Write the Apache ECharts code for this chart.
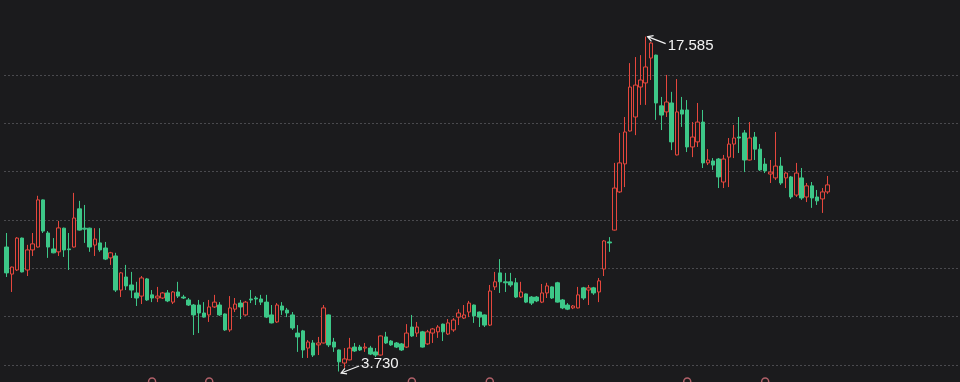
<!DOCTYPE html>
<html>
<head>
<meta charset="utf-8">
<script src="https://cdn.jsdelivr.net/npm/echarts@6/dist/echarts.min.js"></script>
<style>
html,body{margin:0;padding:0;background:#1b1b1d;}
#c{width:960px;height:382px;}
</style>
</head>
<body>
<div id="c"></div>
<script>
// total category slots on the x axis (candles fill the first ones, the rest is empty space)
const slotCount = 184;

// candles: [open, close, lowest, highest]
const ohlc = [
[8.88,7.81,7.64,9.46],[7.76,8.05,7.02,8.07],[7.93,9.25,7.89,9.29],[9.25,7.85,7.83,9.27],
[7.93,8.76,7.68,8.97],[8.76,9.01,8.51,9.46],[8.88,10.83,8.86,11.00],[10.83,9.54,9.46,10.85],
[9.46,8.88,8.43,9.54],[8.80,8.64,8.62,9.25],[8.68,9.67,8.51,9.96],[9.66,8.76,8.47,9.68],
[8.80,8.77,7.93,9.46],[8.88,10.08,8.86,11.12],[10.46,9.58,9.56,10.79],[9.66,9.62,9.05,10.62],
[9.66,8.88,8.68,9.68],[8.96,9.21,8.51,9.66],[9.05,8.76,8.68,9.66],[8.84,8.38,8.34,9.09],
[8.43,8.64,8.14,8.68],[8.51,7.10,7.02,8.64],[7.10,7.81,6.81,7.85],[7.64,7.27,7.10,8.14],
[7.31,7.10,6.77,7.85],[6.98,6.77,6.44,7.44],[6.85,7.60,6.52,7.68],[7.56,6.69,6.65,7.60],
[6.90,6.77,6.60,7.10],[6.77,6.85,6.60,7.23],[6.77,6.98,6.73,7.02],[6.98,6.65,6.60,7.10],
[6.60,7.02,6.52,7.06],[7.02,6.85,6.77,7.44],[6.81,6.77,6.73,6.90],[6.69,6.48,6.44,6.77],
[6.48,6.07,5.24,6.52],[6.48,6.15,5.32,6.69],[6.15,5.98,5.96,6.60],[6.07,6.40,5.78,6.69],
[6.40,6.60,6.36,6.90],[6.48,6.07,6.03,6.60],[6.11,5.45,5.41,6.13],[5.45,6.36,5.37,6.85],
[6.31,6.52,6.19,6.77],[6.56,6.40,5.90,6.69],[6.07,6.60,6.03,6.65],[6.73,6.69,6.56,7.10],
[6.77,6.73,6.48,6.85],[6.73,6.60,6.48,6.90],[6.60,5.98,5.94,6.90],[6.07,5.74,5.72,6.48],
[5.78,6.48,5.74,6.56],[6.44,6.27,6.07,6.60],[6.27,6.15,5.98,6.36],[6.07,5.53,5.45,6.19],
[5.32,5.16,4.54,5.65],[5.41,4.62,4.29,5.45],[4.70,4.95,4.29,5.03],[4.91,4.41,4.33,5.03],
[4.83,4.91,4.41,5.16],[4.91,6.36,4.89,6.48],[6.07,4.83,4.74,6.09],[4.95,4.74,4.54,5.12],
[4.62,4.13,3.73,4.64],[4.08,4.25,3.88,4.70],[4.21,4.70,4.19,5.12],[4.74,4.58,4.54,4.91],
[4.74,4.62,4.58,4.83],[4.70,4.74,4.54,4.91],[4.70,4.45,4.41,4.79],[4.54,4.41,4.33,4.70],
[4.41,5.20,4.39,5.22],[5.16,4.91,4.87,5.37],[4.99,4.83,4.79,5.03],[4.91,4.74,4.70,4.95],
[4.87,4.62,4.58,4.91],[4.74,5.32,4.70,5.69],[5.57,5.20,5.16,6.07],[5.32,5.57,5.16,5.78],
[5.37,4.74,4.72,5.41],[4.87,5.37,4.83,5.45],[5.32,5.49,4.91,5.53],[5.37,5.57,5.12,5.65],
[5.69,5.37,4.99,5.71],[5.28,5.74,5.24,5.90],[5.45,5.86,5.37,5.94],[5.98,6.15,5.65,6.31],
[5.94,6.07,5.90,6.48],[6.19,6.56,5.98,6.65],[6.48,6.03,5.74,6.50],[6.19,5.98,5.57,6.21],
[6.07,5.65,5.57,6.09],[5.65,7.06,5.61,7.31],[7.23,7.44,7.10,7.85],[7.81,7.44,6.98,8.38],
[7.44,7.40,7.02,7.81],[7.44,7.31,7.23,7.81],[7.40,6.81,6.77,7.60],[6.81,7.02,6.77,7.44],
[6.94,6.60,6.56,6.96],[6.81,6.56,6.48,6.85],[6.81,6.65,6.60,6.85],[6.60,6.98,6.56,7.35],
[6.98,7.27,6.77,7.40],[7.23,6.77,6.73,7.25],[7.40,6.60,6.58,7.44],[6.69,6.36,6.31,6.73],
[6.48,6.31,6.27,6.56],[6.36,6.44,6.31,6.48],[6.36,6.90,6.34,7.23],[7.19,6.77,6.69,7.23],
[7.10,7.19,6.48,7.31],[7.19,6.98,6.90,7.23],[7.02,7.48,6.60,7.60],[7.97,9.13,7.68,9.17],
[9.09,9.05,8.68,9.29],[9.58,11.32,9.56,12.36],[11.16,12.36,11.12,13.60],[12.32,13.64,11.36,14.26],
[13.68,15.50,13.66,16.49],[14.26,15.58,13.51,16.74],[15.50,15.79,14.76,16.82],[15.67,16.33,14.76,17.585],
[16.70,17.32,15.79,17.36],[16.82,14.84,14.14,16.84],[14.72,14.34,13.72,15.09],[14.47,14.88,14.26,16.00],
[14.84,13.23,12.89,15.30],[12.69,14.47,12.67,15.83],[14.55,14.38,13.85,15.09],[14.55,13.02,12.81,14.96],
[13.02,13.43,12.60,14.05],[13.23,14.05,13.02,14.84],[14.05,12.36,12.15,14.55],[12.36,12.48,12.27,12.93],
[12.44,12.27,12.07,12.56],[12.52,11.78,11.32,12.56],[11.57,12.52,11.32,12.69],[12.60,13.14,11.36,13.39],
[13.14,13.39,12.56,13.93],[13.43,13.39,12.77,14.26],[13.60,12.48,11.98,13.72],[12.48,13.39,12.46,14.05],
[13.43,12.93,12.48,13.64],[12.93,12.07,12.03,13.14],[12.31,12.03,11.94,12.56],[11.90,11.98,11.53,12.48],
[11.74,12.23,11.65,13.64],[12.23,11.53,11.45,12.60],[11.74,11.94,11.32,11.98],[11.78,10.95,10.87,11.82],
[11.03,11.94,10.95,12.36],[11.74,10.91,10.83,12.15],[10.95,11.41,10.74,11.53],[11.41,10.91,10.50,11.57],
[10.95,10.79,10.62,11.24],[10.87,11.16,10.29,11.32],[11.16,11.45,11.08,11.82]
];

// category indices of the event markers along the bottom edge
const eventIdx = [28, 39, 78, 93, 131, 146];

// y axis ticks
const yMin = 2, yMax = 18, yStep = 2;

const categories = [];
for (let i = 0; i < slotCount; i++) categories.push(String(i + 1));

const BG = '#1b1b1d', RED = '#e5473d', GREEN = '#3dc788', MARK = '#d6727c';

const chart = echarts.init(document.getElementById('c'), null, {renderer: 'canvas'});
chart.setOption({
  backgroundColor: BG,
  animation: false,
  grid: [
    {left: 4, right: 0, top: 26.6, bottom: -31.3, outerBoundsMode: 'none', containLabel: false},
    {left: 4, right: 0, top: 371.5, height: 20, outerBoundsMode: 'none', containLabel: false}
  ],
  xAxis: [
    {type: 'category', data: categories, gridIndex: 0, boundaryGap: true,
     axisLine: {show: false}, axisTick: {show: false}, axisLabel: {show: false}, splitLine: {show: false}},
    {type: 'category', data: categories, gridIndex: 1, boundaryGap: true, show: false}
  ],
  yAxis: [
    {type: 'value', gridIndex: 0, min: yMin, max: yMax, interval: yStep, scale: true,
     axisLine: {show: false}, axisTick: {show: false}, axisLabel: {show: false},
     splitLine: {show: true, showMaxLine: false, showMinLine: false,
                 lineStyle: {color: '#4a4a4e', type: [2, 2], width: 1}}},
    {type: 'value', gridIndex: 1, min: 0, max: 2, show: false, splitLine: {show: false}}
  ],
  series: [
    {
      type: 'candlestick',
      xAxisIndex: 0, yAxisIndex: 0,
      data: ohlc,
      barWidth: 4,
      itemStyle: {color: BG, color0: GREEN, borderColor: RED, borderColor0: GREEN, borderWidth: 1}
    },
    {
      type: 'scatter',
      xAxisIndex: 1, yAxisIndex: 1,
      data: eventIdx.map(i => [i, 1]),
      symbol: 'circle', symbolSize: 7,
      itemStyle: {color: BG, borderColor: MARK, borderWidth: 1.5},
      silent: true
    }
  ]
});

// max / min annotations placed through the axes
let iMax = 0, iMin = 0;
ohlc.forEach((d, i) => {
  if (d[3] > ohlc[iMax][3]) iMax = i;
  if (d[2] < ohlc[iMin][2]) iMin = i;
});
function arrow(idx, val, dy, textDy) {
  const p = chart.convertToPixel({xAxisIndex: 0, yAxisIndex: 0}, [idx, val]);
  const tip = [p[0] + 2, p[1] + (dy > 0 ? 0 : 1.5)];
  const tail = [tip[0] + 18, tip[1] + dy];
  const len = Math.hypot(tail[0] - tip[0], tail[1] - tip[1]);
  const ux = (tail[0] - tip[0]) / len, uy = (tail[1] - tip[1]) / len;
  const a = Math.PI / 6, h = 6;
  const h1 = [tip[0] + h * (ux * Math.cos(a) - uy * Math.sin(a)), tip[1] + h * (ux * Math.sin(a) + uy * Math.cos(a))];
  const h2 = [tip[0] + h * (ux * Math.cos(-a) - uy * Math.sin(-a)), tip[1] + h * (ux * Math.sin(-a) + uy * Math.cos(-a))];
  return [
    {type: 'polyline', shape: {points: [tail, tip]}, style: {stroke: '#f2f2f2', lineWidth: 1.2, fill: null}, silent: true},
    {type: 'polyline', shape: {points: [h1, tip, h2]}, style: {stroke: '#f2f2f2', lineWidth: 1.2, fill: null}, silent: true},
    {type: 'text', x: tail[0] + 2, y: tail[1] + textDy, silent: true,
     style: {text: val.toFixed(3), fill: '#f2f2f2', font: '15px "Liberation Sans", Arial, sans-serif',
             align: 'left', verticalAlign: 'middle'}}
  ];
}
chart.setOption({
  graphic: arrow(iMax, ohlc[iMax][3], 7, 2).concat(arrow(iMin, ohlc[iMin][2], -7, -2))
});
</script>
</body>
</html>
